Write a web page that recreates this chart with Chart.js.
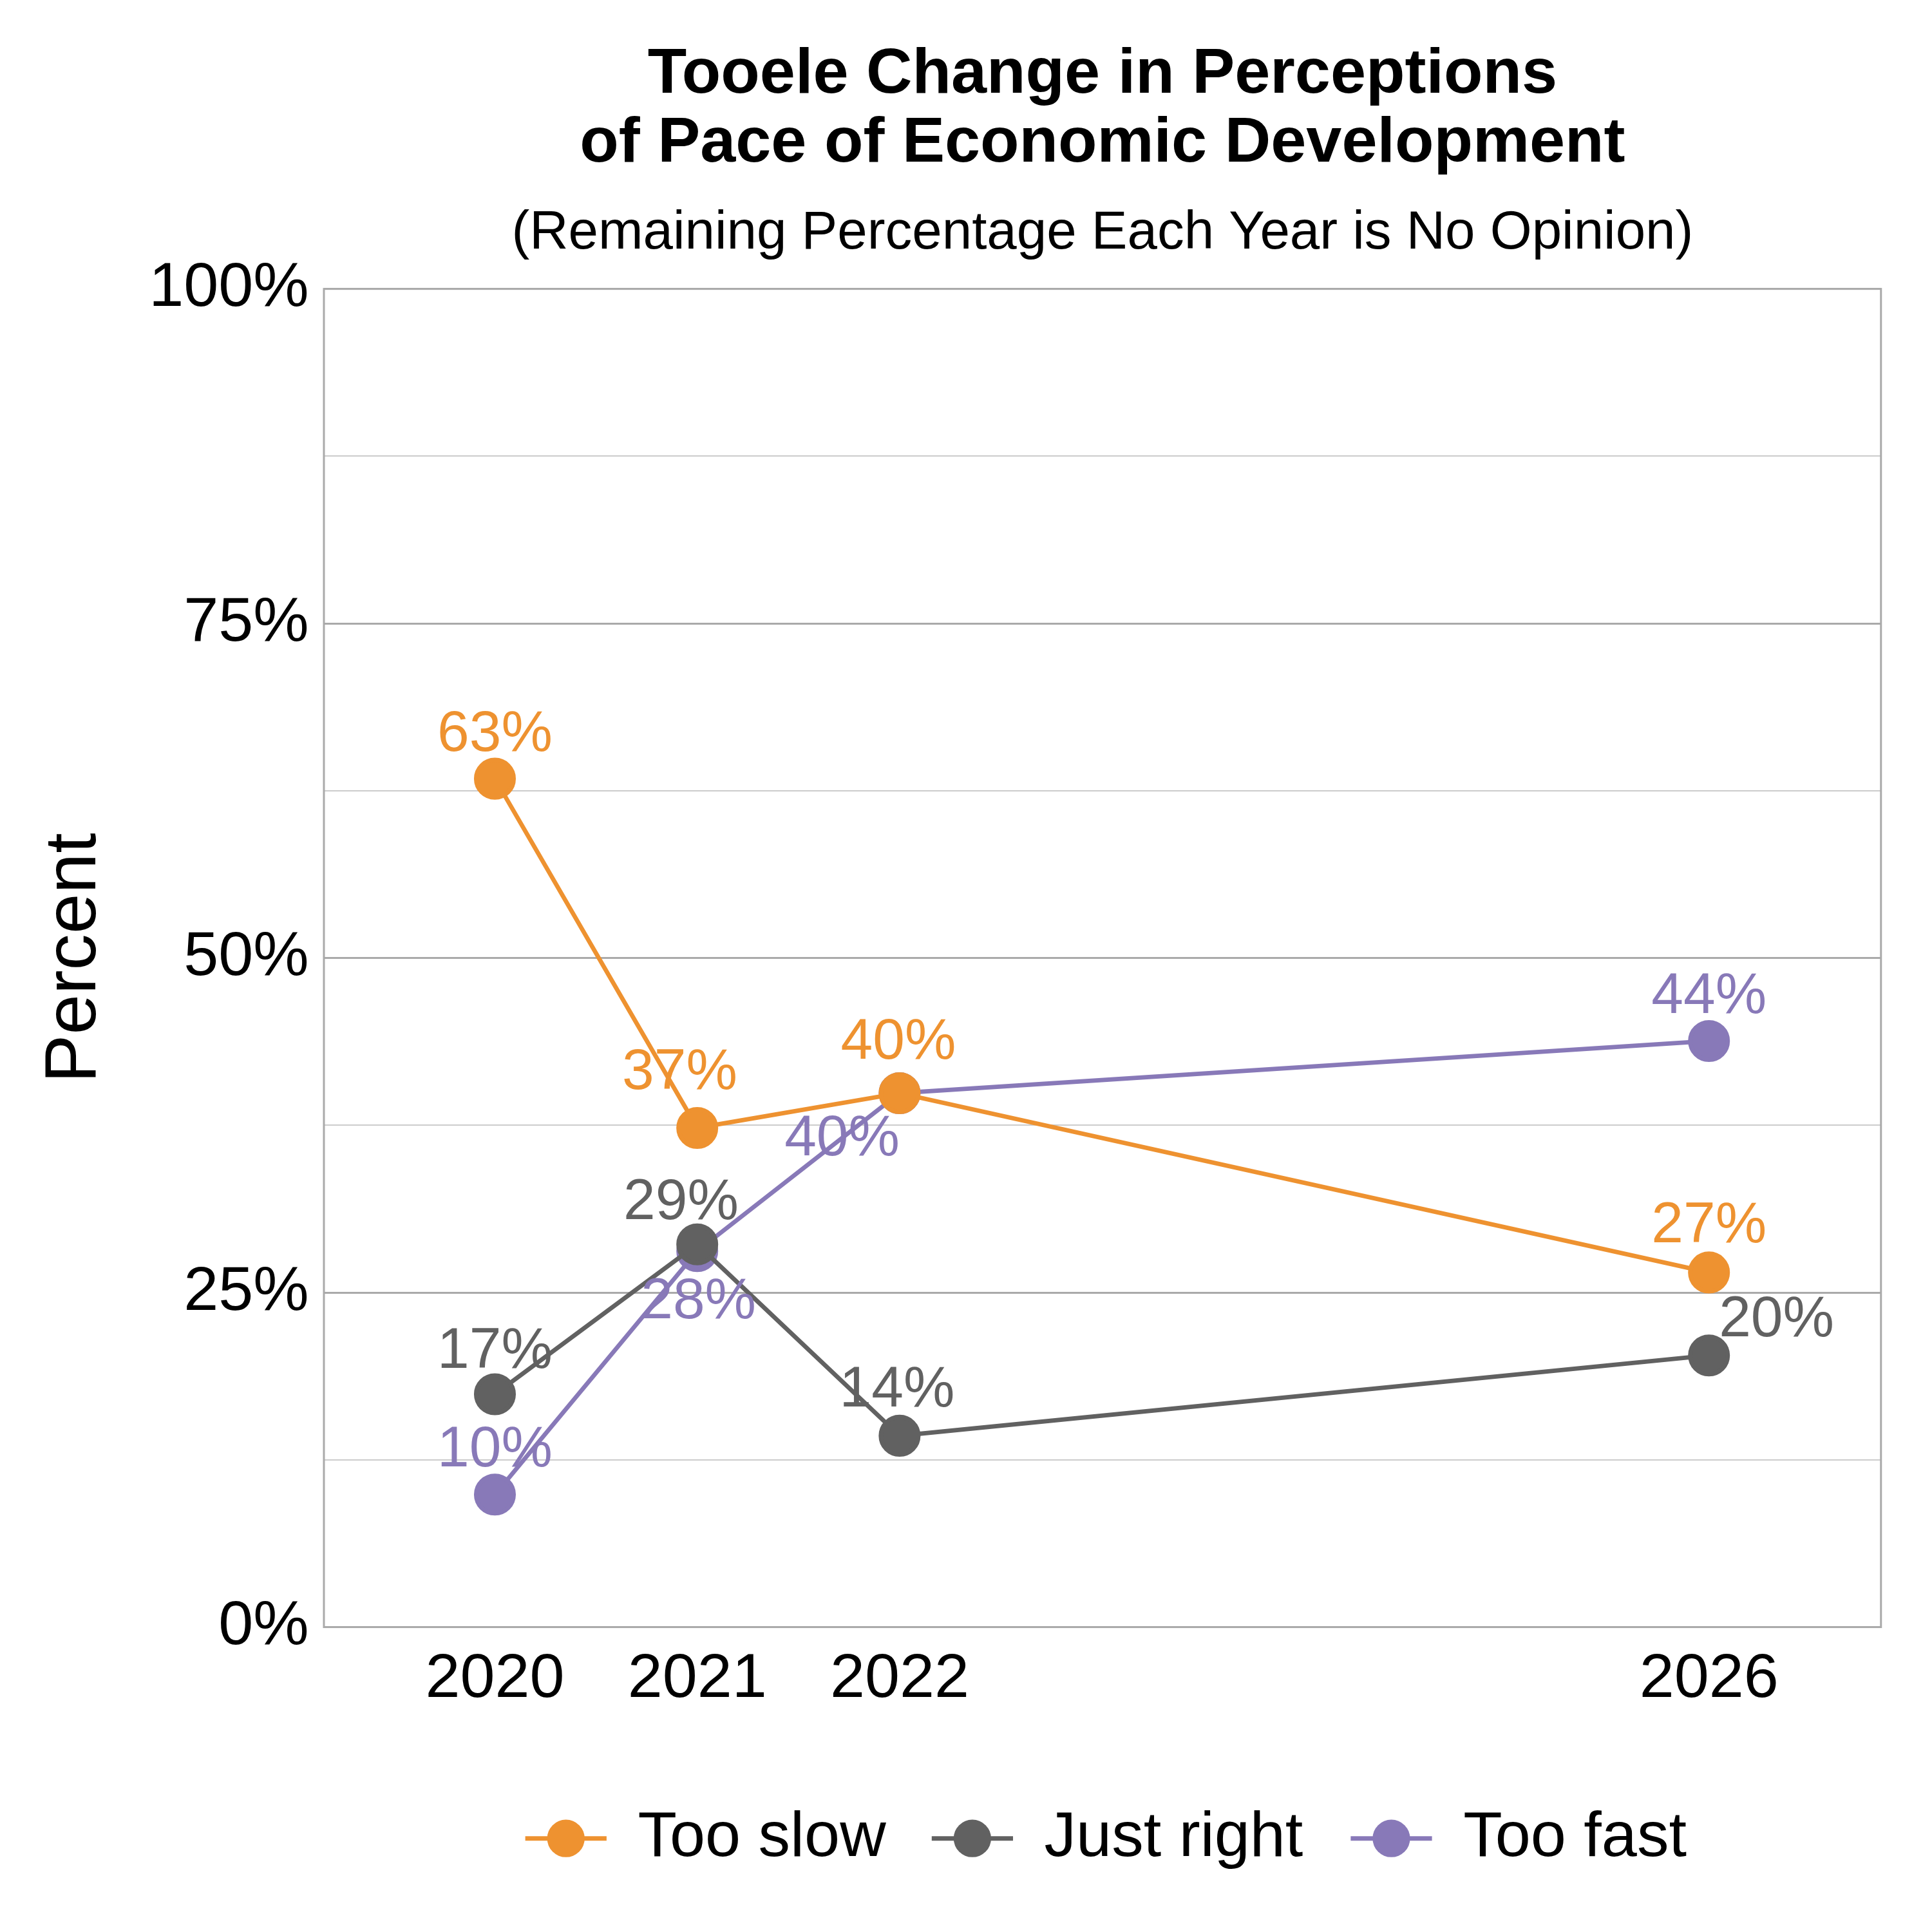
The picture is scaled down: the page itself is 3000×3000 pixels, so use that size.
<!DOCTYPE html>
<html><head><meta charset="utf-8">
<script src="https://cdn.jsdelivr.net/npm/chart.js@4"></script>
<style>html,body{margin:0;padding:0;background:#fff}#w{width:3000px;height:3000px}</style>
</head><body><div id="w"><canvas id="c" width="3000" height="3000"></canvas></div>
<script>
const years = [2020, 2021, 2022, 2026];
const seriesNames = ["Too slow", "Just right", "Too fast"];
const tooSlow = [63.4, 37.3, 39.9, 26.5];
const justRight = [17.4, 28.6, 14.3, 20.3];
const tooFast = [9.9, 28.1, 39.9, 43.8];
const yTicks = [0, 25, 50, 75, 100];
const colors = ["#EE9230", "#616161", "#8879B8"];
// label offsets (styling, in reference px)
const labelOffsets = [
  [[0,-35],[-14,-44],[-1,-40],[0,-37]],
  [[0,-34],[-13,-33],[-2,-36],[54,-28]],
  [[0,-35],[1,41],[-46,37],[0,-35]]
];
const S = 1.942;
const font = '"Liberation Sans", Arial, sans-serif';
const allData = [tooSlow, justRight, tooFast];

const deco = {
  id: 'deco',
  afterDraw(chart) {
    const ctx = chart.ctx, a = chart.chartArea;
    ctx.save();
    ctx.strokeStyle = '#aaaaaa'; ctx.lineWidth = 3;
    ctx.strokeRect(a.left, a.top, a.right - a.left, a.bottom - a.top);
    ctx.fillStyle = '#000'; ctx.textAlign = 'center'; ctx.textBaseline = 'middle';
    const cx = (a.left + a.right) / 2;
    ctx.font = 'bold ' + (51*S) + 'px ' + font;
    ctx.fillText('Tooele Change in Perceptions', cx, 60*S);
    ctx.fillText('of Pace of Economic Development', cx, 115*S);
    ctx.font = (43*S) + 'px ' + font;
    ctx.fillText('(Remaining Percentage Each Year is No Opinion)', cx, 187*S);
    ctx.save();
    ctx.translate(60*S, (a.top + a.bottom)/2);
    ctx.rotate(-Math.PI/2);
    ctx.font = (58*S) + 'px ' + font;
    ctx.fillText('Percent', 0, 0);
    ctx.restore();
    // data labels
    ctx.font = (46*S) + 'px ' + font;
    chart.data.datasets.forEach((ds, i) => {
      const meta = chart.getDatasetMeta(i);
      ctx.fillStyle = colors[i];
      meta.data.forEach((pt, j) => {
        const o = labelOffsets[i][j];
        ctx.fillText(Math.round(allData[i][j]) + '%', pt.x + o[0]*S, pt.y + o[1]*S);
      });
    });
    // legend
    const lx = [420, 745, 1080], ly = 1470*S;
    ctx.font = (51*S) + 'px ' + font; ctx.textAlign = 'left';
    seriesNames.forEach((n, i) => {
      const x = lx[i]*S;
      ctx.strokeStyle = colors[i]; ctx.lineWidth = 3.5*S;
      ctx.beginPath(); ctx.moveTo(x, ly); ctx.lineTo(x + 65*S, ly); ctx.stroke();
      ctx.fillStyle = colors[i];
      ctx.beginPath(); ctx.arc(x + 32.5*S, ly, 15*S, 0, Math.PI*2); ctx.fill();
      ctx.fillStyle = '#000';
      ctx.fillText(n, x + 90*S, ly);
    });
    ctx.restore();
  }
};

new Chart(document.getElementById('c'), {
  type: 'line',
  data: {
    datasets: seriesNames.map((n, i) => ({
      label: n,
      data: years.map((y, j) => ({x: y, y: allData[i][j]})),
      borderColor: colors[i], backgroundColor: colors[i],
      pointBackgroundColor: colors[i], pointBorderColor: colors[i],
      borderWidth: 3.5*S, pointRadius: 15*S, pointHoverRadius: 15*S
    }))
  },
  options: {
    responsive: false, animation: false, devicePixelRatio: 1,
    layout: { padding: { top: 231*S, right: 3000 - 1504*S, bottom: 3000 - 1301*S - 80*S, left: 0 } },
    plugins: { legend: { display: false }, title: { display: false }, tooltip: { enabled: false } },
    scales: {
      x: {
        type: 'linear', min: 2019.155, max: 2026.85,
        afterFit(s) { s.height = 80*S; },
        afterBuildTicks(s) { s.ticks = years.map(v => ({value: v})); },
        ticks: { color: '#000', font: { size: 50*S, family: font }, padding: 8*S, callback: v => String(v) },
        grid: { display: false }, border: { display: false }
      },
      y: {
        min: 0, max: 100,
        afterFit(s) { s.width = 259*S; },
        afterBuildTicks(s) { s.ticks = [0,12.5,25,37.5,50,62.5,75,87.5,100].map(v => ({value: v})); },
        ticks: { color: '#000', font: { size: 50*S, family: font }, padding: 12*S,
          callback: v => yTicks.includes(v) ? v + '%' : '' },
        grid: { drawTicks: false, color: c => (c.tick && c.tick.value % 25 === 0) ? '#aaaaaa' : '#cccccc',
          lineWidth: c => (c.tick && c.tick.value % 25 === 0) ? 3 : 2 },
        border: { display: false }
      }
    }
  },
  plugins: [deco]
});
</script></body></html>
